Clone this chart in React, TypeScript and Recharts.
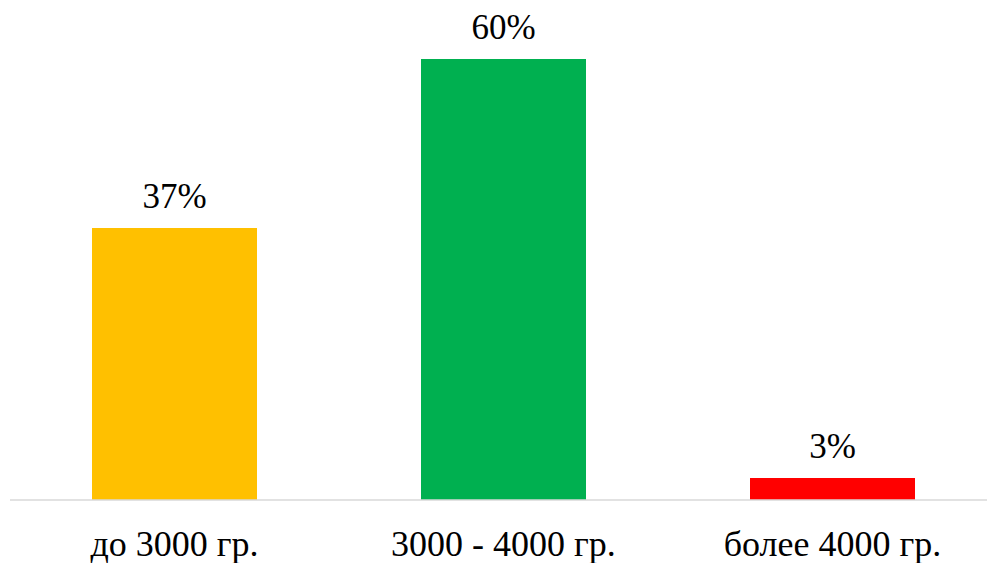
import { BarChart, Bar, XAxis, YAxis, Cell, LabelList } from 'recharts';

const categories = ['до 3000 гр.', '3000 - 4000 гр.', 'более 4000 гр.'];
const shares = [37, 60, 3];
const barColors = ['#FFC000', '#00B050', '#FF0000'];

const data = categories.map((name, i) => ({ name, value: shares[i] }));

const textStyle = { fontFamily: '"Liberation Serif", "Times New Roman", serif', fill: '#000' };

const CategoryTick = (props: any) => {
  const { x, y, payload } = props;
  return (
    <text x={x} y={y + 56} textAnchor="middle" style={{ ...textStyle, fontSize: 36 }}>
      {payload.value}
    </text>
  );
};

const ValueLabel = (props: any) => {
  const { x, y, width, value } = props;
  return (
    <text x={x + width / 2} y={y - 20} textAnchor="middle" style={{ ...textStyle, fontSize: 35 }}>
      {`${value}%`}
    </text>
  );
};

export default function App() {
  return (
    <div
      style={{
        position: 'absolute',
        left: 0,
        top: 0,
        width: 987,
        height: 563,
        overflow: 'hidden',
        background: '#fff',
      }}
    >
      <BarChart
        width={997}
        height={563}
        data={data}
        margin={{ top: 59, right: 0, left: 10, bottom: 0 }}
        barCategoryGap={82}
      >
        <XAxis
          dataKey="name"
          height={63}
          axisLine={{ stroke: '#D9D9D9', strokeWidth: 1.5 }}
          tickLine={false}
          tickSize={0}
          tickMargin={0}
          interval={0}
          tick={<CategoryTick />}
        />
        <YAxis hide domain={[0, 60]} />
        <Bar dataKey="value" isAnimationActive={false}>
          {data.map((d, i) => (
            <Cell key={d.name} fill={barColors[i]} />
          ))}
          <LabelList dataKey="value" content={<ValueLabel />} />
        </Bar>
      </BarChart>
    </div>
  );
}
